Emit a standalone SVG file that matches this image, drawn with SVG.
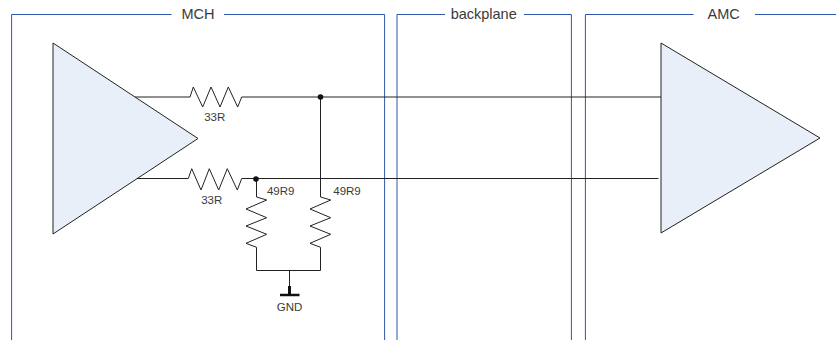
<svg xmlns="http://www.w3.org/2000/svg" width="836" height="340" viewBox="0 0 836 340">
<style>
.frame{fill:none;stroke:#2f55a8;stroke-width:1}
.tri{fill:#e8eff8;stroke:#222;stroke-width:1}
.w{fill:none;stroke:#222;stroke-width:1;stroke-linejoin:miter}
.dot{fill:#111}
text{font-family:"Liberation Sans",Arial,sans-serif;fill:#3a3a3a;font-size:11.5px;text-anchor:middle}
.t{font-size:14.5px}
</style>
<rect width="836" height="340" fill="#fff"/>
<g id="frame-mch"><path class="frame" d="M171.5 14.5H11.6V340M224 14.5H384.6V340"/><text class="t" x="198" y="19">MCH</text></g>
<g id="frame-backplane"><path class="frame" d="M445 14.5H397V340M524 14.5H571.4V340"/><text class="t" x="483.7" y="19">backplane</text></g>
<g id="frame-amc"><path class="frame" d="M693.5 14.5H585.4V340M755 14.5H836"/><text class="t" x="723.7" y="19">AMC</text></g>
<g id="connectors">
<path class="w" d="M135 97H190L193.3 87L202.7 107L211 87L220 107L228.3 87L237.7 107L241.7 97H661"/>
<path class="w" d="M135 178.5H188.3L191.7 168.7L201 190L209.3 168.7L218.7 190L227.3 168.7L237.3 190L241.7 178.5H658.5"/>
<path class="w" d="M320.5 97V197L330.7 200L310 209L330.7 217.7L310 226L330.7 234.3L310 243.3L320.5 247.3V270.5"/>
<path class="w" d="M256.5 179V197L266.7 200L246 209L266.7 217.7L246 226L266.7 234.3L246 243.3L256.5 247.3V270.5H320.5"/>
<path class="w" d="M289.5 270.5V295"/>
</g>
<g id="amp-left"><path class="tri" d="M53 43V234L198 138.5Z"/></g>
<g id="amp-right"><path class="tri" d="M661 43V233L820 138Z"/></g>
<circle class="dot" cx="320.5" cy="97" r="2.8"/>
<circle class="dot" cx="256" cy="179" r="2.8"/>
<g id="r1"><text x="214.7" y="121">33R</text></g>
<g id="r2"><text x="211.7" y="204">33R</text></g>
<g id="r3"><text x="280.7" y="195">49R9</text></g>
<g id="r4"><text x="347" y="195">49R9</text></g>
<g id="gnd"><path d="M289.5 286V295" stroke="#111" stroke-width="3" fill="none"/><path d="M280 295H299.5" stroke="#111" stroke-width="2.5" fill="none"/><text x="289.5" y="311">GND</text></g>
</svg>
